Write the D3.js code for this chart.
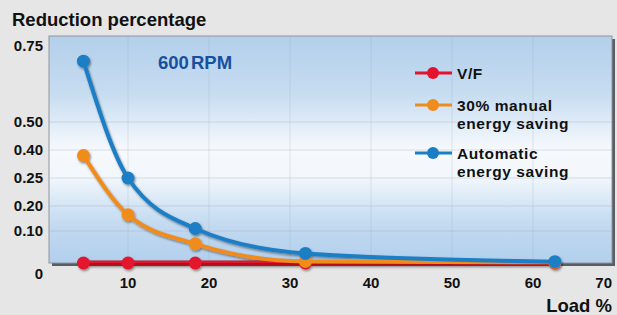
<!DOCTYPE html>
<html>
<head>
<meta charset="utf-8">
<script src="https://cdn.jsdelivr.net/npm/d3@7"></script>
<style>
  html, body { margin: 0; padding: 0; background: #e6e6e6; }
  svg { display: block; font-family: "Liberation Sans", Arial, sans-serif; font-weight: bold; }
</style>
</head>
<body>
<svg id="chart" width="617" height="315"></svg>
<script>
  // values
  var load = [4.5, 10, 18.3, 31.9, 62.7];
  var vfValues = [0, 0, 0, 0, 0];
  var manualValues = [0.37, 0.165, 0.06, 0.005, 0.002];
  var autoValues = [0.70, 0.25, 0.11, 0.03, 0.004];
  var yTicks = [0, 0.10, 0.20, 0.25, 0.40, 0.50, 0.75];
  var yTickLabels = ["0", "0.10", "0.20", "0.25", "0.40", "0.50", "0.75"];
  var xTicks = [10, 20, 30, 40, 50, 60, 70];
  var seriesNames = ["V/F", "30% manual|energy saving", "Automatic|energy saving"];
  var seriesColors = ["#e3132e", "#f08c1c", "#1b7ec4"];

  var box = {left: 49, top: 36, right: 612, bottom: 263};

  var svg = d3.select("#chart");

  // the y axis of the original is not evenly spaced, so a piecewise scale
  var y = d3.scaleLinear()
      .domain(yTicks)
      .range([263, 231, 206, 178, 150, 122, 46]);

  var x = d3.scaleLinear()
      .domain([0, 70])
      .range([47, 614]);

  var defs = svg.append("defs");
  var grad = defs.append("linearGradient")
      .attr("id", "bg").attr("x1", 0).attr("y1", 0).attr("x2", 0).attr("y2", 1);
  grad.append("stop").attr("offset", "0%").attr("stop-color", "#b3cfeb");
  grad.append("stop").attr("offset", "25%").attr("stop-color", "#c6dcf1");
  grad.append("stop").attr("offset", "50%").attr("stop-color", "#f6f9fd");
  grad.append("stop").attr("offset", "62%").attr("stop-color", "#f2f7fc");
  grad.append("stop").attr("offset", "82%").attr("stop-color", "#c4dbf1");
  grad.append("stop").attr("offset", "100%").attr("stop-color", "#b2cfed");

  var shadow = defs.append("filter").attr("id", "shadow")
      .attr("x", "-10%").attr("y", "-10%").attr("width", "130%").attr("height", "130%");
  shadow.append("feDropShadow")
      .attr("dx", 1).attr("dy", 1.5).attr("stdDeviation", 0.8)
      .attr("flood-color", "#000").attr("flood-opacity", 0.45);

  // plot box with its shadow on the right and bottom
  svg.append("rect")
      .attr("x", box.left + 3).attr("y", box.top + 3)
      .attr("width", box.right - box.left).attr("height", box.bottom - box.top)
      .attr("fill", "#5a5d62");
  svg.append("rect")
      .attr("x", box.left).attr("y", box.top)
      .attr("width", box.right - box.left).attr("height", box.bottom - box.top)
      .attr("fill", "url(#bg)")
      .attr("stroke", "#8d939b").attr("stroke-width", 1);

  // faint grid
  svg.append("g").selectAll("line.h")
      .data(yTicks.slice(1, 6))
    .enter().append("line")
      .attr("x1", box.left).attr("x2", box.right)
      .attr("y1", function(d) { return y(d); })
      .attr("y2", function(d) { return y(d); })
      .attr("stroke", "#9aa6b3").attr("stroke-opacity", 0.35);
  svg.append("g").selectAll("line.v")
      .data(xTicks.slice(0, 6))
    .enter().append("line")
      .attr("x1", function(d) { return x(d); })
      .attr("x2", function(d) { return x(d); })
      .attr("y1", box.top).attr("y2", box.bottom)
      .attr("stroke", "#9aa6b3").attr("stroke-opacity", 0.25);

  // axis labels
  svg.append("g").selectAll("text")
      .data(yTicks)
    .enter().append("text")
      .attr("x", 43)
      .attr("y", function(d) { return d === 0 ? y(d) + 16 : y(d) + 5; })
      .attr("text-anchor", "end")
      .style("font-size", "15px")
      .attr("fill", "#111")
      .text(function(d, i) { return yTickLabels[i]; });

  svg.append("g").selectAll("text")
      .data(xTicks)
    .enter().append("text")
      .attr("x", function(d) { return d === 70 ? box.right : x(d); })
      .attr("y", 288)
      .attr("text-anchor", function(d) { return d === 70 ? "end" : "middle"; })
      .style("font-size", "15px")
      .attr("fill", "#111")
      .text(function(d) { return d; });

  svg.append("text")
      .attr("x", 12).attr("y", 26)
      .style("font-size", "18.5px")
      .attr("fill", "#111")
      .text("Reduction percentage");

  svg.append("text")
      .attr("x", box.right).attr("y", 312)
      .attr("text-anchor", "end")
      .style("font-size", "18.5px")
      .attr("fill", "#111")
      .text("Load %");

  svg.append("text")
      .attr("x", 158).attr("y", 69)
      .style("font-size", "18.5px")
      .style("word-spacing", "-3px")
      .attr("fill", "#16509e")
      .text("600 RPM");

  // series
  var series = [vfValues, manualValues, autoValues].map(function(vals, i) {
    return {
      name: seriesNames[i],
      color: seriesColors[i],
      points: vals.map(function(v, j) { return {load: load[j], value: v}; })
    };
  });

  var line = d3.line()
      .x(function(d) { return x(d.load); })
      .y(function(d) { return y(d.value); })
      .curve(d3.curveMonotoneX);

  var s = svg.append("g").attr("filter", "url(#shadow)")
      .selectAll("g.series")
      .data(series)
    .enter().append("g")
      .attr("class", "series");

  s.append("path")
      .attr("d", function(d) { return line(d.points); })
      .attr("fill", "none")
      .attr("stroke", function(d, i) { return i === 0 ? "#b3101f" : d.color; })
      .attr("stroke-width", function(d, i) { return i === 0 ? 5 : 4; });

  s.filter(function(d, i) { return i === 0; }).append("path")
      .attr("d", function(d) { return line(d.points); })
      .attr("fill", "none")
      .attr("stroke", function(d) { return d.color; })
      .attr("stroke-width", 2)
      .attr("transform", "translate(0,-1)");

  s.selectAll("circle")
      .data(function(d) { return d.points.map(function(p) { return {p: p, color: d.color}; }); })
    .enter().append("circle")
      .attr("cx", function(d) { return x(d.p.load); })
      .attr("cy", function(d) { return y(d.p.value); })
      .attr("r", 6.5)
      .attr("fill", function(d) { return d.color; });

  // legend
  var legendY = [73, 105, 153];
  var legend = svg.append("g").selectAll("g")
      .data(series)
    .enter().append("g")
      .attr("transform", function(d, i) { return "translate(415," + legendY[i] + ")"; });

  legend.append("line")
      .attr("x1", 0).attr("x2", 37)
      .attr("stroke", function(d) { return d.color; })
      .attr("stroke-width", 3);
  legend.append("circle")
      .attr("cx", 18).attr("r", 6)
      .attr("fill", function(d) { return d.color; });
  // one text per line so the rows do not overlap
  legend.selectAll("text")
      .data(function(d) { return d.name.split("|"); })
    .enter().append("text")
      .attr("x", 42)
      .attr("y", function(d, i) { return 6 + i * 17.5; })
      .style("font-size", "15.5px")
      .style("letter-spacing", "0.6px")
      .attr("fill", "#111")
      .text(function(d) { return d; });
</script>
</body>
</html>
